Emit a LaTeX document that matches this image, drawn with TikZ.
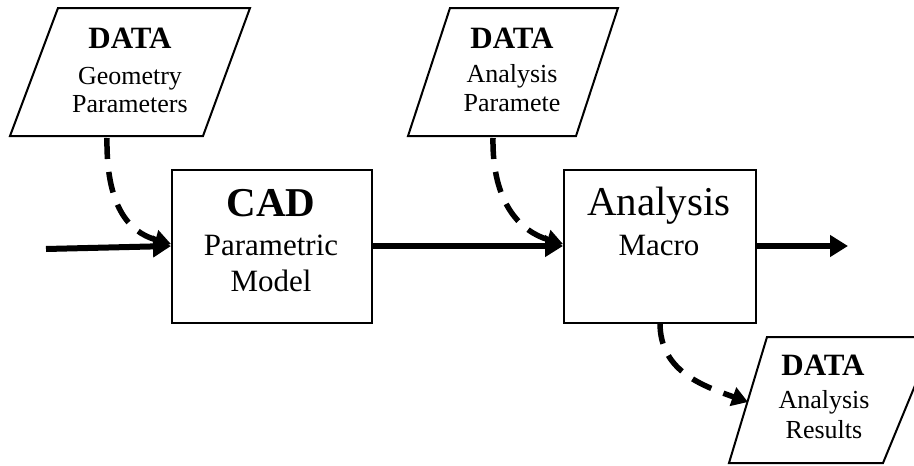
\documentclass[tikz,border=0pt]{standalone}
\usepackage{fontspec}
\setmainfont{Liberation Serif}
\usetikzlibrary{arrows.meta}

\tikzset{
  databox/.style={draw=black, line width=2pt, line join=miter},
  procbox/.style={draw=black, line width=2pt},
  txt/.style={anchor=base, inner sep=0pt, outer sep=0pt},
  bigbold/.style={txt, font=\fontsize{31}{31}\selectfont\bfseries},
  small/.style={txt, font=\fontsize{26}{26}\selectfont},
  mid/.style={txt, font=\fontsize{31}{31}\selectfont},
  huge/.style={txt, font=\fontsize{41}{41}\selectfont},
  flow/.style={line width=6pt, -{Triangle[length=18pt,width=21pt]}},
  dataflow/.style={line width=5.5pt, dash pattern=on 21pt off 13pt,
                   -{Triangle[length=16pt,width=19pt]}}
}

\begin{document}
\begin{tikzpicture}[x=1pt,y=-1pt]
  \useasboundingbox (0,0) rectangle (914,466);

  % input / output data sheets
  \draw[databox] (58,8) -- (250,8) -- (203,136) -- (10,136) -- cycle;
  \draw[databox] (450,8) -- (618,8) -- (576,136) -- (408,136) -- cycle;
  \begin{scope}
    \clip (0,0) rectangle (914,466);
    \draw[databox] (767,337) -- (935,337) -- (883,463) -- (729,463) -- cycle;
  \end{scope}

  % process blocks
  \node[procbox, minimum width=200pt, minimum height=153pt, anchor=north west]
    (cad) at (171,169) {};
  \node[procbox, minimum width=192pt, minimum height=153pt, anchor=north west]
    (ana) at (563,169) {};

  % texts of the data sheets
  \node[bigbold] (d1t) at (130,48) {DATA};
  \node[small]   (d1a) at (130,84) {Geometry};
  \node[small]   (d1b) at (130,112) {Parameters};

  \node[bigbold] (d2t) at (512,48) {DATA};
  \node[small]   (d2a) at (512,82) {Analysis};
  \node[small]   (d2b) at (512,111) {Paramete};

  \node[bigbold] (d3t) at (823,375) {DATA};
  \node[small]   (d3a) at (824,408) {Analysis};
  \node[small]   (d3b) at (824,438) {Results};

  % texts of the process blocks
  \node[huge, font=\fontsize{41}{41}\selectfont\bfseries] (cadt) at (271,216) {CAD};
  \node[mid]  (cada) at (271,255) {Parametric};
  \node[mid]  (cadb) at (271,291) {Model};

  \node[huge] (anat) at (659,215) {Analysis};
  \node[mid]  (anaa) at (659,255) {Macro};

  % connector end points
  \coordinate (in)    at (46,249);
  \coordinate (out)   at (848,246);
  \coordinate (d1s)   at (107,138);
  \coordinate (d2s)   at (493,138);
  \coordinate (anab)  at (660,323);
  \coordinate (d3in)  at (748,402);

  % main flow
  \draw[flow] (in) -- (cad.west |- 0,246);
  \draw[flow] (cad.east |- 0,246) -- (ana.west |- 0,246);
  \draw[flow] (ana.east |- 0,246) -- (out);

  % data flow
  \draw[dataflow] (d1s) .. controls (106,205) and (128,232) .. (cad.west |- 0,244);
  \draw[dataflow] (d2s) .. controls (492,205) and (522,232) .. (ana.west |- 0,244);
  \draw[dataflow] (anab) .. controls (660,370) and (700,385) .. (d3in);
\end{tikzpicture}
\end{document}
